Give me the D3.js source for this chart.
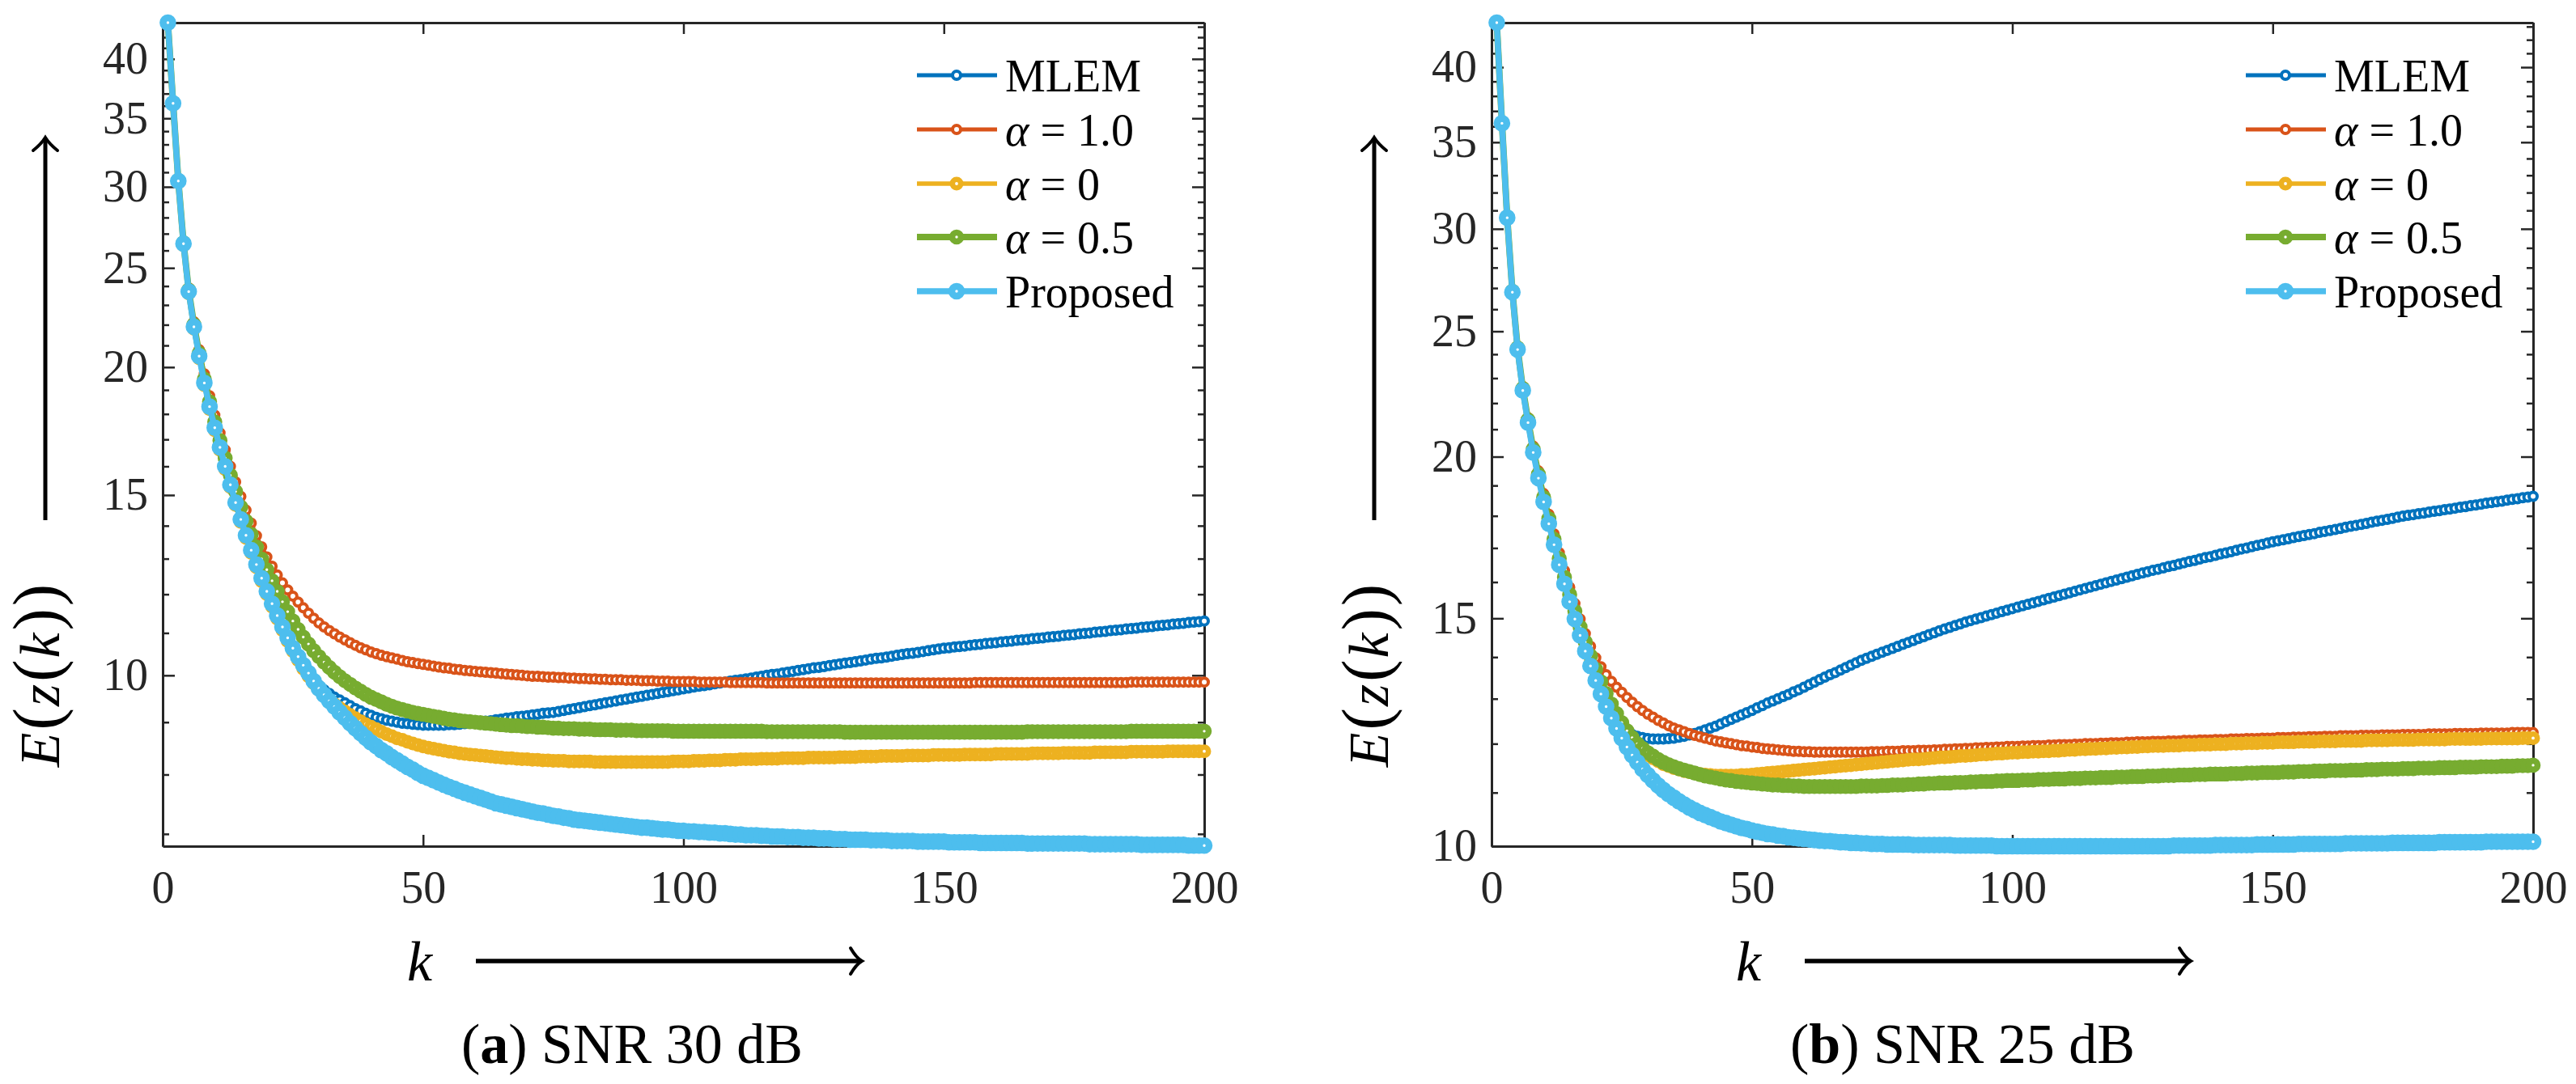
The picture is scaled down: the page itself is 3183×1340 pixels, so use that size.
<!DOCTYPE html>
<html>
<head>
<meta charset="utf-8">
<script src="https://cdn.jsdelivr.net/npm/d3@7/dist/d3.min.js"></script>
<style>
  body { margin: 0; background: #fff; }
  svg { display: block; }
  text { font-family: "Liberation Serif", "Times New Roman", serif; }
</style>
</head>
<body>
<div id="chart"></div>
<script>
const WIDTH = 3183;
const HEIGHT = 1340;
const SERIF = "Liberation Serif";

// iteration index k = 1..200
const iterations = d3.range(1, 201);

const seriesNames = ["MLEM", "α = 1.0", "α = 0", "α = 0.5", "Proposed"];
const xTicks = [0, 50, 100, 150, 200];
const yMajor = [10, 15, 20, 25, 30, 35, 40];
const yMinor30 = [7, 8, 9, 11, 12, 13, 14, 16, 17, 18, 19, 21, 22, 23, 24, 26, 27, 28, 29, 31, 32, 33, 34, 36, 37, 38, 39, 41, 42, 43];
const yMinor25 = [11, 12, 13, 14, 16, 17, 18, 19, 21, 22, 23, 24, 26, 27, 28, 29, 31, 32, 33, 34, 36, 37, 38, 39, 41, 42, 43];
const yDomain30 = [6.81, 43.4];
const yDomain25 = [10.0, 43.3];

// ---------- SNR 30 dB ----------
const mlem30 = [
  43.4, 36.15, 30.35, 26.35, 23.65, 21.85, 20.45, 19.25, 18.25, 17.4,
  16.65, 15.95, 15.3, 14.7, 14.15, 13.65, 13.2, 12.78, 12.39, 12.03,
  11.7, 11.39, 11.1, 10.83, 10.58, 10.38, 10.2, 10.03, 9.9, 9.78,
  9.68, 9.6, 9.52, 9.46, 9.4, 9.34, 9.28, 9.23, 9.18, 9.14,
  9.1, 9.07, 9.04, 9.02, 9.0, 8.98, 8.97, 8.96, 8.95, 8.94,
  8.94, 8.94, 8.94, 8.94, 8.95, 8.95, 8.96, 8.97, 8.98, 8.99,
  9.0, 9.02, 9.03, 9.05, 9.06, 9.08, 9.09, 9.11, 9.12, 9.13,
  9.15, 9.16, 9.18, 9.19, 9.2, 9.22, 9.24, 9.26, 9.28, 9.3,
  9.32, 9.34, 9.36, 9.38, 9.4, 9.42, 9.44, 9.46, 9.48, 9.5,
  9.52, 9.54, 9.56, 9.58, 9.6, 9.62, 9.64, 9.66, 9.68, 9.7,
  9.72, 9.74, 9.76, 9.77, 9.79, 9.81, 9.83, 9.85, 9.87, 9.89,
  9.9, 9.92, 9.94, 9.96, 9.98, 10.0, 10.02, 10.03, 10.05, 10.07,
  10.09, 10.11, 10.13, 10.15, 10.17, 10.18, 10.2, 10.22, 10.24, 10.26,
  10.28, 10.29, 10.31, 10.33, 10.35, 10.37, 10.39, 10.4, 10.42, 10.44,
  10.46, 10.48, 10.5, 10.51, 10.53, 10.55, 10.57, 10.59, 10.61, 10.63,
  10.64, 10.66, 10.67, 10.68, 10.7, 10.71, 10.72, 10.74, 10.75, 10.76,
  10.78, 10.79, 10.8, 10.82, 10.83, 10.84, 10.86, 10.87, 10.88, 10.9,
  10.91, 10.92, 10.94, 10.95, 10.96, 10.98, 10.99, 11.0, 11.02, 11.03,
  11.04, 11.06, 11.07, 11.08, 11.1, 11.11, 11.12, 11.14, 11.15, 11.16,
  11.18, 11.19, 11.2, 11.22, 11.23, 11.24, 11.26, 11.27, 11.28, 11.3
];
const alpha10_30 = [
  43.4, 36.25, 30.5, 26.55, 23.9, 22.15, 20.8, 19.7, 18.75, 17.95,
  17.25, 16.6, 16.0, 15.45, 14.95, 14.5, 14.08, 13.69, 13.35, 13.05,
  12.78, 12.53, 12.31, 12.12, 11.95, 11.79, 11.64, 11.5, 11.37, 11.25,
  11.15, 11.06, 10.98, 10.9, 10.83, 10.76, 10.7, 10.64, 10.59, 10.54,
  10.5, 10.46, 10.43, 10.4, 10.37, 10.34, 10.31, 10.29, 10.27, 10.25,
  10.23, 10.21, 10.19, 10.17, 10.16, 10.14, 10.13, 10.11, 10.1, 10.09,
  10.08, 10.07, 10.06, 10.05, 10.04, 10.03, 10.02, 10.01, 10.0, 9.99,
  9.98, 9.98, 9.97, 9.96, 9.96, 9.95, 9.95, 9.94, 9.94, 9.93,
  9.93, 9.92, 9.92, 9.91, 9.91, 9.9, 9.9, 9.9, 9.89, 9.89,
  9.89, 9.88, 9.88, 9.88, 9.87, 9.87, 9.87, 9.86, 9.86, 9.86,
  9.86, 9.86, 9.85, 9.85, 9.85, 9.85, 9.85, 9.85, 9.84, 9.84,
  9.84, 9.84, 9.84, 9.84, 9.84, 9.83, 9.83, 9.83, 9.83, 9.83,
  9.83, 9.83, 9.83, 9.83, 9.83, 9.83, 9.83, 9.83, 9.83, 9.83,
  9.83, 9.83, 9.83, 9.83, 9.83, 9.83, 9.83, 9.83, 9.83, 9.83,
  9.83, 9.83, 9.83, 9.83, 9.83, 9.83, 9.83, 9.83, 9.83, 9.83,
  9.83, 9.83, 9.83, 9.83, 9.83, 9.84, 9.84, 9.84, 9.84, 9.84,
  9.84, 9.84, 9.84, 9.84, 9.84, 9.84, 9.84, 9.84, 9.84, 9.84,
  9.84, 9.84, 9.84, 9.84, 9.84, 9.84, 9.84, 9.84, 9.84, 9.84,
  9.84, 9.84, 9.84, 9.84, 9.84, 9.85, 9.85, 9.85, 9.85, 9.85,
  9.85, 9.85, 9.85, 9.85, 9.85, 9.85, 9.85, 9.85, 9.85, 9.85
];
const alpha0_30 = [
  43.4, 36.1, 30.3, 26.3, 23.6, 21.8, 20.4, 19.2, 18.2, 17.35,
  16.6, 15.9, 15.27, 14.67, 14.12, 13.62, 13.17, 12.75, 12.36, 12.0,
  11.67, 11.36, 11.07, 10.8, 10.56, 10.35, 10.15, 9.98, 9.82, 9.68,
  9.56, 9.46, 9.37, 9.29, 9.22, 9.15, 9.08, 9.02, 8.96, 8.91,
  8.86, 8.81, 8.76, 8.72, 8.68, 8.65, 8.61, 8.58, 8.55, 8.52,
  8.5, 8.48, 8.46, 8.44, 8.42, 8.41, 8.39, 8.38, 8.37, 8.36,
  8.35, 8.34, 8.33, 8.32, 8.31, 8.3, 8.3, 8.29, 8.28, 8.28,
  8.27, 8.27, 8.26, 8.26, 8.25, 8.25, 8.25, 8.24, 8.24, 8.24,
  8.24, 8.24, 8.23, 8.23, 8.23, 8.23, 8.23, 8.23, 8.23, 8.23,
  8.23, 8.23, 8.23, 8.23, 8.23, 8.23, 8.23, 8.24, 8.24, 8.24,
  8.24, 8.25, 8.25, 8.25, 8.26, 8.26, 8.26, 8.27, 8.27, 8.27,
  8.28, 8.28, 8.28, 8.28, 8.29, 8.29, 8.29, 8.29, 8.3, 8.3,
  8.3, 8.3, 8.3, 8.31, 8.31, 8.31, 8.31, 8.31, 8.31, 8.32,
  8.32, 8.32, 8.32, 8.33, 8.33, 8.33, 8.33, 8.34, 8.34, 8.34,
  8.34, 8.34, 8.35, 8.35, 8.35, 8.35, 8.35, 8.36, 8.36, 8.36,
  8.36, 8.36, 8.36, 8.37, 8.37, 8.37, 8.37, 8.37, 8.37, 8.38,
  8.38, 8.38, 8.38, 8.38, 8.38, 8.38, 8.39, 8.39, 8.39, 8.39,
  8.39, 8.39, 8.4, 8.4, 8.4, 8.4, 8.4, 8.4, 8.41, 8.41,
  8.41, 8.41, 8.41, 8.41, 8.41, 8.42, 8.42, 8.42, 8.42, 8.42,
  8.42, 8.42, 8.43, 8.43, 8.43, 8.43, 8.43, 8.43, 8.43, 8.43
];
const alpha05_30 = [
  43.4, 36.22, 30.44, 26.46, 23.78, 22.0, 20.63, 19.46, 18.5, 17.68,
  16.96, 16.3, 15.68, 15.12, 14.6, 14.14, 13.73, 13.35, 12.99, 12.68,
  12.37, 12.08, 11.8, 11.54, 11.3, 11.09, 10.9, 10.73, 10.57, 10.43,
  10.3, 10.18, 10.07, 9.97, 9.88, 9.8, 9.72, 9.65, 9.58, 9.52,
  9.47, 9.42, 9.37, 9.33, 9.29, 9.26, 9.23, 9.2, 9.18, 9.16,
  9.14, 9.12, 9.1, 9.08, 9.06, 9.05, 9.03, 9.02, 9.01, 9.0,
  8.99, 8.98, 8.97, 8.96, 8.95, 8.94, 8.93, 8.93, 8.92, 8.91,
  8.91, 8.9, 8.9, 8.89, 8.88, 8.88, 8.87, 8.87, 8.87, 8.86,
  8.86, 8.86, 8.85, 8.85, 8.85, 8.85, 8.84, 8.84, 8.84, 8.84,
  8.83, 8.83, 8.83, 8.83, 8.83, 8.83, 8.83, 8.82, 8.82, 8.82,
  8.82, 8.82, 8.82, 8.82, 8.82, 8.82, 8.82, 8.82, 8.82, 8.82,
  8.82, 8.82, 8.82, 8.82, 8.82, 8.81, 8.81, 8.81, 8.81, 8.81,
  8.81, 8.81, 8.81, 8.81, 8.81, 8.81, 8.81, 8.81, 8.81, 8.81,
  8.8, 8.8, 8.8, 8.8, 8.8, 8.8, 8.8, 8.8, 8.8, 8.8,
  8.8, 8.8, 8.8, 8.8, 8.8, 8.8, 8.8, 8.8, 8.8, 8.8,
  8.8, 8.8, 8.8, 8.8, 8.8, 8.8, 8.8, 8.8, 8.8, 8.8,
  8.8, 8.8, 8.8, 8.8, 8.8, 8.81, 8.81, 8.81, 8.81, 8.81,
  8.81, 8.81, 8.81, 8.81, 8.81, 8.81, 8.81, 8.81, 8.81, 8.81,
  8.81, 8.81, 8.81, 8.81, 8.81, 8.82, 8.82, 8.82, 8.82, 8.82,
  8.82, 8.82, 8.82, 8.82, 8.82, 8.82, 8.82, 8.82, 8.82, 8.82
];
const proposed30 = [
  43.4, 36.2, 30.4, 26.4, 23.7, 21.9, 20.5, 19.3, 18.3, 17.45,
  16.7, 16.0, 15.35, 14.75, 14.2, 13.7, 13.25, 12.83, 12.44, 12.08,
  11.75, 11.44, 11.15, 10.88, 10.63, 10.43, 10.23, 10.05, 9.87, 9.71,
  9.57, 9.44, 9.32, 9.2, 9.09, 8.98, 8.88, 8.78, 8.69, 8.6,
  8.53, 8.45, 8.39, 8.32, 8.26, 8.2, 8.14, 8.09, 8.03, 7.98,
  7.94, 7.9, 7.86, 7.82, 7.78, 7.75, 7.71, 7.68, 7.65, 7.62,
  7.59, 7.56, 7.53, 7.5, 7.48, 7.46, 7.44, 7.42, 7.4, 7.38,
  7.36, 7.34, 7.33, 7.31, 7.29, 7.28, 7.26, 7.25, 7.23, 7.22,
  7.21, 7.2, 7.19, 7.18, 7.17, 7.16, 7.15, 7.14, 7.13, 7.12,
  7.11, 7.1, 7.1, 7.09, 7.08, 7.07, 7.07, 7.06, 7.05, 7.05,
  7.04, 7.04, 7.03, 7.03, 7.02, 7.02, 7.01, 7.01, 7.0, 6.99,
  6.99, 6.98, 6.98, 6.98, 6.97, 6.97, 6.96, 6.96, 6.96, 6.95,
  6.95, 6.95, 6.94, 6.94, 6.94, 6.93, 6.93, 6.93, 6.92, 6.92,
  6.92, 6.91, 6.91, 6.91, 6.91, 6.9, 6.9, 6.9, 6.9, 6.89,
  6.89, 6.89, 6.89, 6.89, 6.88, 6.88, 6.88, 6.88, 6.88, 6.88,
  6.87, 6.87, 6.87, 6.87, 6.87, 6.87, 6.86, 6.86, 6.86, 6.86,
  6.86, 6.86, 6.86, 6.86, 6.86, 6.85, 6.85, 6.85, 6.85, 6.85,
  6.85, 6.85, 6.85, 6.85, 6.85, 6.85, 6.85, 6.84, 6.84, 6.84,
  6.84, 6.84, 6.84, 6.84, 6.84, 6.84, 6.84, 6.83, 6.83, 6.83,
  6.83, 6.83, 6.83, 6.83, 6.83, 6.83, 6.82, 6.82, 6.82, 6.82
];

// ---------- SNR 25 dB ----------
const mlem25 = [
  43.3, 36.16, 30.56, 26.76, 24.16, 22.46, 21.21, 20.11, 19.21, 18.41,
  17.71, 17.06, 16.46, 15.91, 15.41, 14.94, 14.51, 14.11, 13.74, 13.39,
  13.07, 12.78, 12.55, 12.42, 12.32, 12.25, 12.2, 12.16, 12.13, 12.11,
  12.1, 12.1, 12.1, 12.11, 12.12, 12.14, 12.16, 12.19, 12.22, 12.26,
  12.3, 12.34, 12.38, 12.43, 12.48, 12.53, 12.58, 12.63, 12.68, 12.73,
  12.79, 12.84, 12.9, 12.95, 13.0, 13.05, 13.1, 13.16, 13.21, 13.27,
  13.33, 13.39, 13.45, 13.51, 13.57, 13.62, 13.68, 13.74, 13.8, 13.86,
  13.92, 13.97, 14.02, 14.07, 14.12, 14.17, 14.22, 14.27, 14.32, 14.37,
  14.42, 14.47, 14.52, 14.57, 14.62, 14.67, 14.72, 14.76, 14.81, 14.85,
  14.9, 14.94, 14.98, 15.02, 15.06, 15.1, 15.14, 15.18, 15.22, 15.26,
  15.3, 15.34, 15.38, 15.42, 15.46, 15.5, 15.54, 15.58, 15.62, 15.66,
  15.7, 15.74, 15.78, 15.82, 15.86, 15.9, 15.94, 15.98, 16.02, 16.06,
  16.1, 16.14, 16.18, 16.22, 16.26, 16.3, 16.34, 16.37, 16.41, 16.45,
  16.48, 16.52, 16.56, 16.6, 16.63, 16.67, 16.71, 16.74, 16.78, 16.82,
  16.85, 16.89, 16.93, 16.97, 17.0, 17.04, 17.08, 17.11, 17.15, 17.19,
  17.22, 17.25, 17.28, 17.32, 17.35, 17.38, 17.41, 17.44, 17.48, 17.51,
  17.54, 17.57, 17.6, 17.64, 17.67, 17.7, 17.73, 17.76, 17.8, 17.83,
  17.86, 17.89, 17.92, 17.96, 17.99, 18.02, 18.04, 18.07, 18.09, 18.12,
  18.15, 18.17, 18.2, 18.22, 18.25, 18.28, 18.3, 18.33, 18.35, 18.38,
  18.41, 18.43, 18.46, 18.48, 18.51, 18.54, 18.56, 18.59, 18.61, 18.64
];
const alpha10_25 = [
  43.3, 36.25, 30.68, 26.9, 24.33, 22.66, 21.44, 20.38, 19.5, 18.73,
  18.05, 17.43, 16.86, 16.33, 15.85, 15.4, 14.98, 14.6, 14.27, 13.98,
  13.76, 13.57, 13.41, 13.27, 13.15, 13.03, 12.92, 12.82, 12.73, 12.65,
  12.58, 12.51, 12.45, 12.39, 12.34, 12.3, 12.26, 12.22, 12.18, 12.15,
  12.12, 12.09, 12.06, 12.04, 12.02, 12.0, 11.98, 11.96, 11.95, 11.93,
  11.92, 11.9, 11.89, 11.88, 11.87, 11.86, 11.85, 11.84, 11.84, 11.83,
  11.83, 11.82, 11.82, 11.82, 11.82, 11.82, 11.82, 11.82, 11.82, 11.82,
  11.82, 11.82, 11.83, 11.83, 11.83, 11.84, 11.84, 11.84, 11.85, 11.85,
  11.85, 11.86, 11.86, 11.86, 11.87, 11.87, 11.88, 11.88, 11.89, 11.89,
  11.9, 11.9, 11.91, 11.91, 11.92, 11.92, 11.93, 11.93, 11.94, 11.94,
  11.94, 11.95, 11.95, 11.96, 11.96, 11.96, 11.97, 11.97, 11.98, 11.98,
  11.98, 11.99, 11.99, 12.0, 12.0, 12.0, 12.01, 12.01, 12.02, 12.02,
  12.02, 12.03, 12.03, 12.04, 12.04, 12.04, 12.05, 12.05, 12.05, 12.06,
  12.06, 12.06, 12.07, 12.07, 12.07, 12.08, 12.08, 12.08, 12.09, 12.09,
  12.09, 12.1, 12.1, 12.1, 12.11, 12.11, 12.11, 12.12, 12.12, 12.12,
  12.13, 12.13, 12.13, 12.14, 12.14, 12.14, 12.15, 12.15, 12.15, 12.16,
  12.16, 12.16, 12.17, 12.17, 12.17, 12.17, 12.18, 12.18, 12.18, 12.18,
  12.19, 12.19, 12.19, 12.19, 12.2, 12.2, 12.2, 12.2, 12.2, 12.21,
  12.21, 12.21, 12.21, 12.21, 12.22, 12.22, 12.22, 12.22, 12.22, 12.23,
  12.23, 12.23, 12.23, 12.23, 12.23, 12.24, 12.24, 12.24, 12.24, 12.24
];
const alpha0_25 = [
  43.3, 36.2, 30.61, 26.81, 24.22, 22.53, 21.29, 20.2, 19.3, 18.51,
  17.81, 17.17, 16.57, 16.02, 15.52, 15.06, 14.63, 14.24, 13.87, 13.5,
  13.2, 12.93, 12.7, 12.5, 12.32, 12.17, 12.04, 11.93, 11.84, 11.76,
  11.69, 11.63, 11.57, 11.53, 11.49, 11.46, 11.43, 11.41, 11.39, 11.37,
  11.36, 11.35, 11.34, 11.34, 11.34, 11.34, 11.34, 11.35, 11.35, 11.36,
  11.37, 11.38, 11.39, 11.4, 11.41, 11.42, 11.43, 11.44, 11.45, 11.46,
  11.47, 11.48, 11.49, 11.5, 11.51, 11.52, 11.53, 11.54, 11.55, 11.56,
  11.57, 11.58, 11.59, 11.6, 11.61, 11.62, 11.63, 11.64, 11.65, 11.66,
  11.67, 11.67, 11.68, 11.69, 11.7, 11.71, 11.71, 11.72, 11.73, 11.74,
  11.74, 11.75, 11.76, 11.77, 11.77, 11.78, 11.79, 11.79, 11.8, 11.81,
  11.81, 11.82, 11.82, 11.83, 11.83, 11.84, 11.84, 11.85, 11.85, 11.86,
  11.87, 11.87, 11.88, 11.88, 11.89, 11.89, 11.9, 11.9, 11.91, 11.91,
  11.92, 11.92, 11.93, 11.93, 11.94, 11.94, 11.95, 11.95, 11.95, 11.96,
  11.96, 11.96, 11.97, 11.97, 11.97, 11.98, 11.98, 11.98, 11.99, 11.99,
  11.99, 12.0, 12.0, 12.0, 12.01, 12.01, 12.01, 12.02, 12.02, 12.02,
  12.03, 12.03, 12.03, 12.03, 12.04, 12.04, 12.04, 12.04, 12.05, 12.05,
  12.05, 12.05, 12.06, 12.06, 12.06, 12.06, 12.06, 12.07, 12.07, 12.07,
  12.07, 12.07, 12.08, 12.08, 12.08, 12.08, 12.08, 12.09, 12.09, 12.09,
  12.09, 12.09, 12.09, 12.1, 12.1, 12.1, 12.1, 12.1, 12.1, 12.1,
  12.11, 12.11, 12.11, 12.11, 12.11, 12.11, 12.11, 12.12, 12.12, 12.12
];
const alpha05_25 = [
  43.3, 36.22, 30.64, 26.85, 24.27, 22.58, 21.35, 20.27, 19.38, 18.6,
  17.91, 17.27, 16.68, 16.14, 15.65, 15.19, 14.77, 14.38, 14.03, 13.7,
  13.4, 13.12, 12.88, 12.66, 12.46, 12.28, 12.13, 12.0, 11.9, 11.81,
  11.74, 11.67, 11.61, 11.56, 11.52, 11.48, 11.45, 11.42, 11.39, 11.36,
  11.33, 11.31, 11.29, 11.27, 11.25, 11.24, 11.22, 11.21, 11.2, 11.19,
  11.18, 11.17, 11.16, 11.15, 11.15, 11.14, 11.14, 11.13, 11.13, 11.12,
  11.12, 11.12, 11.12, 11.12, 11.12, 11.12, 11.12, 11.12, 11.12, 11.12,
  11.13, 11.13, 11.13, 11.13, 11.14, 11.14, 11.15, 11.15, 11.15, 11.16,
  11.16, 11.17, 11.17, 11.18, 11.18, 11.19, 11.19, 11.19, 11.2, 11.2,
  11.2, 11.21, 11.21, 11.22, 11.22, 11.22, 11.23, 11.23, 11.24, 11.24,
  11.24, 11.25, 11.25, 11.25, 11.26, 11.26, 11.26, 11.27, 11.27, 11.27,
  11.28, 11.28, 11.28, 11.29, 11.29, 11.29, 11.3, 11.3, 11.3, 11.31,
  11.31, 11.31, 11.32, 11.32, 11.32, 11.33, 11.33, 11.33, 11.34, 11.34,
  11.34, 11.35, 11.35, 11.35, 11.36, 11.36, 11.36, 11.37, 11.37, 11.37,
  11.37, 11.38, 11.38, 11.38, 11.39, 11.39, 11.39, 11.4, 11.4, 11.4,
  11.4, 11.41, 11.41, 11.41, 11.42, 11.42, 11.42, 11.43, 11.43, 11.43,
  11.44, 11.44, 11.44, 11.44, 11.45, 11.45, 11.45, 11.46, 11.46, 11.46,
  11.47, 11.47, 11.47, 11.47, 11.48, 11.48, 11.48, 11.49, 11.49, 11.49,
  11.49, 11.5, 11.5, 11.5, 11.5, 11.51, 11.51, 11.51, 11.51, 11.52,
  11.52, 11.52, 11.52, 11.53, 11.53, 11.53, 11.54, 11.54, 11.54, 11.55
];
const proposed25 = [
  43.3, 36.2, 30.6, 26.8, 24.2, 22.5, 21.25, 20.15, 19.25, 18.45,
  17.75, 17.1, 16.5, 15.95, 15.45, 14.98, 14.55, 14.15, 13.78, 13.43,
  13.11, 12.82, 12.56, 12.33, 12.12, 11.93, 11.76, 11.61, 11.47, 11.35,
  11.24, 11.14, 11.05, 10.97, 10.9, 10.83, 10.77, 10.71, 10.66, 10.61,
  10.57, 10.53, 10.49, 10.45, 10.42, 10.39, 10.36, 10.33, 10.31, 10.28,
  10.26, 10.24, 10.22, 10.21, 10.19, 10.18, 10.16, 10.15, 10.14, 10.13,
  10.12, 10.11, 10.1, 10.09, 10.09, 10.08, 10.07, 10.07, 10.06, 10.06,
  10.05, 10.05, 10.04, 10.04, 10.04, 10.03, 10.03, 10.03, 10.03, 10.03,
  10.02, 10.02, 10.02, 10.02, 10.02, 10.02, 10.02, 10.02, 10.01, 10.01,
  10.01, 10.01, 10.01, 10.01, 10.01, 10.01, 10.0, 10.0, 10.0, 10.0,
  10.0, 10.0, 10.0, 10.0, 10.0, 10.0, 10.0, 10.0, 10.0, 10.0,
  10.0, 10.0, 10.0, 10.0, 10.0, 10.0, 10.0, 10.0, 10.0, 10.0,
  10.0, 10.0, 10.0, 10.0, 10.0, 10.0, 10.0, 10.0, 10.0, 10.0,
  10.01, 10.01, 10.01, 10.01, 10.01, 10.01, 10.01, 10.01, 10.02, 10.02,
  10.02, 10.02, 10.02, 10.02, 10.02, 10.02, 10.03, 10.03, 10.03, 10.03,
  10.03, 10.03, 10.03, 10.03, 10.04, 10.04, 10.04, 10.04, 10.04, 10.04,
  10.04, 10.04, 10.04, 10.05, 10.05, 10.05, 10.05, 10.05, 10.05, 10.05,
  10.05, 10.05, 10.06, 10.06, 10.06, 10.06, 10.06, 10.06, 10.06, 10.06,
  10.06, 10.07, 10.07, 10.07, 10.07, 10.07, 10.07, 10.07, 10.07, 10.07,
  10.08, 10.08, 10.08, 10.08, 10.08, 10.08, 10.08, 10.08, 10.08, 10.08
];

// MATLAB default colour order
const seriesColors = ["#0072BD", "#D95319", "#EDB120", "#77AC30", "#4DBEEE"];
const lineWidths = [5, 5, 5.5, 8, 7.5];
const markerR = [5, 5, 5.2, 5.5, 6];
const markerStroke = [4, 4, 6.6, 7.6, 8.6];

const AXIS_COLOR = "#262626";
const TOP = 28, BOTTOM = 1046, PLOT_W = 1287;

const svg = d3.select("#chart")
  .append("svg")
  .attr("width", WIDTH)
  .attr("height", HEIGHT)
  .attr("font-family", SERIF);

const panels = [
  { left: 201, domain: yDomain30, minor: yMinor30, letter: "a", rest: " SNR 30 dB",
    data: [mlem30, alpha10_30, alpha0_30, alpha05_30, proposed30] },
  { left: 1843, domain: yDomain25, minor: yMinor25, letter: "b", rest: " SNR 25 dB",
    data: [mlem25, alpha10_25, alpha0_25, alpha05_25, proposed25] }
];

function styleAxis(g) {
  g.attr("font-family", SERIF)
    .attr("font-size", 56)
    .attr("color", AXIS_COLOR);
  g.selectAll("text").attr("font-family", SERIF);
  g.select(".domain").attr("stroke-width", 3);
  g.selectAll(".tick line").attr("stroke-width", 2.5);
}

function drawPanel(p) {
  const right = p.left + PLOT_W;
  const x = d3.scaleLinear().domain([0, 200]).range([p.left, right]);
  const y = d3.scaleLog().domain(p.domain).range([BOTTOM, TOP]);
  const g = svg.append("g");

  // axes (box with inward ticks)
  g.append("g").attr("transform", `translate(0,${BOTTOM})`)
    .call(d3.axisBottom(x).tickValues(xTicks).tickSize(-14).tickSizeOuter(0).tickPadding(30))
    .call(styleAxis);
  g.append("g").attr("transform", `translate(0,${TOP})`)
    .call(d3.axisTop(x).tickValues(xTicks).tickSize(-14).tickSizeOuter(0).tickFormat(""))
    .call(styleAxis);
  g.append("g").attr("transform", `translate(${p.left},0)`)
    .call(d3.axisLeft(y).tickValues(yMajor).tickSize(-15).tickSizeOuter(0).tickPadding(18).tickFormat(d3.format("d")))
    .call(styleAxis);
  g.append("g").attr("transform", `translate(${p.left},0)`)
    .call(d3.axisLeft(y).tickValues(p.minor).tickSize(-8).tickSizeOuter(0).tickFormat(""))
    .call(styleAxis);
  g.append("g").attr("transform", `translate(${right},0)`)
    .call(d3.axisRight(y).tickValues(yMajor).tickSize(-15).tickSizeOuter(0).tickFormat(""))
    .call(styleAxis);
  g.append("g").attr("transform", `translate(${right},0)`)
    .call(d3.axisRight(y).tickValues(p.minor).tickSize(-8).tickSizeOuter(0).tickFormat(""))
    .call(styleAxis);

  // series: line + marker at every iteration
  const line = d3.line().x(d => x(d.k)).y(d => y(d.v));
  p.data.forEach(function(vals, i) {
    const pts = vals.map((v, j) => ({ k: iterations[j], v: v }));
    const sg = g.append("g");
    sg.append("path").datum(pts)
      .attr("d", line)
      .attr("fill", "none")
      .attr("stroke", seriesColors[i])
      .attr("stroke-width", lineWidths[i])
      .attr("stroke-linejoin", "round");
    sg.selectAll("circle").data(pts).enter().append("circle")
      .attr("cx", d => x(d.k))
      .attr("cy", d => y(d.v))
      .attr("r", markerR[i])
      .attr("fill", "#fff")
      .attr("stroke", seriesColors[i])
      .attr("stroke-width", markerStroke[i]);
  });

  // legend
  const rowY = [93, 160, 227, 293, 360];
  const lg = g.append("g");
  seriesNames.forEach(function(name, i) {
    const ry = rowY[i];
    lg.append("line")
      .attr("x1", right - 355).attr("x2", right - 256)
      .attr("y1", ry).attr("y2", ry)
      .attr("stroke", seriesColors[i]).attr("stroke-width", lineWidths[i]);
    lg.append("circle")
      .attr("cx", right - 306).attr("cy", ry)
      .attr("r", markerR[i])
      .attr("fill", "#fff")
      .attr("stroke", seriesColors[i]).attr("stroke-width", markerStroke[i]);
    const t = lg.append("text")
      .attr("x", right - 246).attr("y", ry + 20)
      .attr("font-family", SERIF)
      .attr("font-size", 56).attr("fill", "#000");
    if (name.startsWith("α")) {
      t.append("tspan").attr("font-style", "italic").text("α");
      t.append("tspan").text(name.slice(1));
    } else {
      t.text(name);
    }
  });

  // y label E(z(k)) with arrow
  const yl = g.append("text")
    .attr("transform", `translate(${p.left - 128},835) rotate(-90)`)
    .attr("text-anchor", "middle")
    .attr("font-family", SERIF)
    .attr("font-size", 70)
    .attr("fill", "#000");
  yl.append("tspan").attr("font-style", "italic").text("E");
  yl.append("tspan").attr("font-size", 82).attr("dx", 3).text("(");
  yl.append("tspan").attr("font-style", "italic").attr("dx", 2).text("z");
  yl.append("tspan").attr("font-size", 82).attr("dx", 3).text("(");
  yl.append("tspan").attr("font-style", "italic").attr("dx", 2).text("k");
  yl.append("tspan").attr("font-size", 82).attr("dx", 3).text(")");
  yl.append("tspan").attr("font-size", 82).attr("dx", 3).text(")");

  const ax = p.left - 145;
  g.append("line")
    .attr("x1", ax).attr("x2", ax).attr("y1", 643).attr("y2", 172)
    .attr("stroke", "#000").attr("stroke-width", 5);
  g.append("path")
    .attr("d", `M${ax - 15},186 Q${ax - 5},178 ${ax},170 Q${ax + 5},178 ${ax + 15},186`)
    .attr("fill", "none").attr("stroke", "#000").attr("stroke-width", 4)
    .attr("stroke-linecap", "round");

  // x label k with arrow
  g.append("text")
    .attr("x", p.left + 302).attr("y", 1212)
    .attr("font-family", SERIF)
    .attr("font-size", 70).attr("font-style", "italic").attr("fill", "#000")
    .text("k");
  const x0 = p.left + 387, x1 = p.left + 864, yy = 1188;
  g.append("line")
    .attr("x1", x0).attr("x2", x1 - 2).attr("y1", yy).attr("y2", yy)
    .attr("stroke", "#000").attr("stroke-width", 5.5);
  g.append("path")
    .attr("d", `M${x1 - 14},${yy - 16} Q${x1 - 7},${yy - 4} ${x1},${yy} Q${x1 - 7},${yy + 4} ${x1 - 14},${yy + 16}`)
    .attr("fill", "none").attr("stroke", "#000").attr("stroke-width", 4)
    .attr("stroke-linecap", "round");

  // caption
  const cap = g.append("text")
    .attr("x", p.left + 369).attr("y", 1314)
    .attr("font-family", SERIF)
    .attr("font-size", 70).attr("fill", "#000");
  cap.append("tspan").text("(");
  cap.append("tspan").attr("font-weight", "bold").text(p.letter);
  cap.append("tspan").text(")" + p.rest);
}

panels.forEach(drawPanel);
</script>
</body>
</html>
